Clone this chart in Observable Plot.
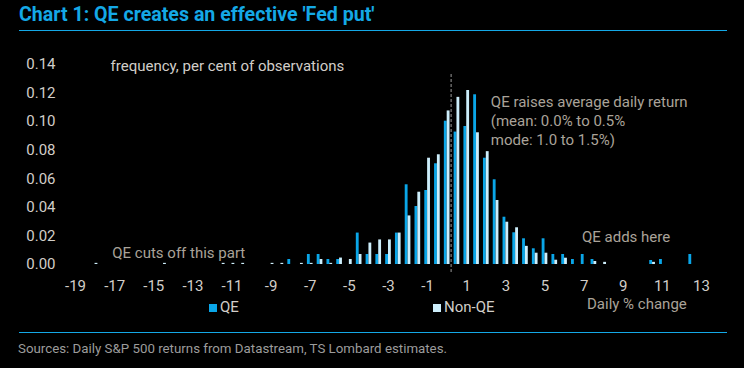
<!DOCTYPE html>
<html><head><meta charset="utf-8">
<script src="https://cdn.jsdelivr.net/npm/d3@7"></script>
<script src="https://cdn.jsdelivr.net/npm/@observablehq/plot@0.6"></script>
<style>
html,body{margin:0;padding:0;background:#000;}
#wrap{position:relative;width:744px;height:368px;background:#000;overflow:hidden;font-family:Roboto,"Liberation Sans",sans-serif;}
#title{position:absolute;left:19px;top:3px;color:#14a8e6;font-weight:700;font-size:19.6px;white-space:nowrap;}
.rule{position:absolute;left:19px;width:708px;height:1px;background:#14a8e6;}
#chart{position:absolute;left:0;top:40px;}
.leg{position:absolute;font-size:15px;color:#d2cec9;white-space:nowrap;line-height:15px;}
.sw{position:absolute;width:8px;height:8px;}
#src{position:absolute;left:18px;top:341px;font-size:13.3px;color:#9c9c9c;white-space:nowrap;}
</style></head><body>
<div id="wrap">
  <div id="title">Chart 1: QE creates an effective 'Fed put'</div>
  <div class="rule" style="top:30px"></div>
  <div id="chart"></div>
  <div class="rule" style="top:332px"></div>
  <div id="src">Sources: Daily S&amp;P 500 returns from Datastream, TS Lombard estimates.</div>
</div>
<script>
// Bin labels (daily % change, 0.5-wide bins)
const bins = [-18, -14.5, -11.5, -11, -10.5, -9, -8.5, -8, -7.5, -7, -6.5, -6, -5.5, -5, -4.5, -4, -3.5, -3, -2.5, -2, -1.5, -1, -0.5, 0, 0.5, 1, 1.5, 2, 2.5, 3, 3.5, 4, 4.5, 5, 5.5, 6, 6.5, 7, 7.5, 8, 10.5, 11, 12.5];
// Frequency, QE periods
const qeValues = [0, 0, 0, 0, 0, 0, 0, 0.0035, 0, 0.007, 0.007, 0.0035, 0.0035, 0, 0.022, 0.007, 0.007, 0.007, 0.022, 0.0558, 0.0406, 0.0518, 0.0705, 0.1003, 0.0927, 0.0966, 0.1188, 0.0744, 0.0593, 0.0331, 0.0222, 0.018, 0.011, 0.018, 0.007, 0.007, 0.0035, 0.007, 0.0035, 0, 0.0028, 0.0035, 0.007];
// Frequency, non-QE periods
const nonQeValues = [0.0008, 0.0008, 0.0008, 0.0008, 0.0008, 0.0008, 0.0008, 0, 0.0008, 0.0008, 0.0035, 0.0008, 0.0045, 0.0035, 0.007, 0.015, 0.0172, 0.0172, 0.022, 0.034, 0.0506, 0.0744, 0.0768, 0.1075, 0.117, 0.1218, 0.0922, 0.079, 0.0448, 0.0296, 0.0257, 0.0127, 0.0079, 0.0079, 0.003, 0.0044, 0, 0, 0.0021, 0.0015, 0.0015, 0, 0];
const seriesNames = ["QE", "Non-QE"];
const seriesColors = ["#0aa6e8", "#cdeefb"];
const xTicks = [-19, -17, -15, -13, -11, -9, -7, -5, -3, -1, 1, 3, 5, 7, 9, 11, 13];
const yTicks = [0, 0.02, 0.04, 0.06, 0.08, 0.10, 0.12, 0.14];
const dividerX = 0.2;

const rows = [];
bins.forEach((b, i) => {
  rows.push({bin: b, series: "QE", value: qeValues[i]});
  rows.push({bin: b, series: "Non-QE", value: nonQeValues[i]});
});
const half = 0.145;

const tickColor = "#d2cec9";
const noteColor = "#aaa399";

const chart = Plot.plot({
  width: 744,
  height: 280,
  marginLeft: 75,
  marginRight: 43,
  marginTop: 24,
  marginBottom: 56,
  style: {background: "transparent", color: tickColor, fontFamily: "Roboto, 'Liberation Sans', sans-serif", fontSize: "15px"},
  x: {type: "linear", domain: [-19, 13], ticks: xTicks, tickFormat: d => String(d), tickSize: 0, tickPadding: 16, label: null},
  y: {domain: [0, 0.14], ticks: yTicks, tickFormat: d3.format(".2f"), tickSize: 0, tickPadding: 20, label: null},
  color: {domain: seriesNames, range: seriesColors},
  marks: [
    Plot.rect(rows, {
      x1: d => d.series === "QE" ? d.bin - half : d.bin,
      x2: d => d.series === "QE" ? d.bin : d.bin + half,
      y1: 0, y2: "value", fill: "series"
    }),
    Plot.ruleX([dividerX], {y1: -0.0056, y2: 0.1337, stroke: "#9a9a9a", strokeDasharray: "3,2", strokeWidth: 1}),
    Plot.text(["frequency, per cent of observations"], {x: -17.21, y: 0.1386, text: d => d, textAnchor: "start", fill: tickColor, fontSize: 15}),
    Plot.text(["QE raises average daily return\n(mean: 0.0% to 0.5%\nmode: 1.0 to 1.5%)"], {x: 2.23, y: 0.1013, text: d => d, textAnchor: "start", lineHeight: 1.27, fill: noteColor, fontSize: 15}),
    Plot.text(["QE cuts off this part"], {x: -17.12, y: 0.0082, text: d => d, textAnchor: "start", fill: noteColor, fontSize: 15}),
    Plot.text(["QE adds here"], {x: 6.89, y: 0.0191, text: d => d, textAnchor: "start", fill: noteColor, fontSize: 15})
  ]
});
document.getElementById("chart").appendChild(chart);

// Legend
const wrap = document.getElementById("wrap");
const legX = [209, 433];
seriesNames.forEach((name, i) => {
  const sw = document.createElement("div");
  sw.className = "sw";
  sw.style.left = legX[i] + "px";
  sw.style.top = "304px";
  sw.style.background = seriesColors[i];
  wrap.appendChild(sw);
  const t = document.createElement("div");
  t.className = "leg";
  t.style.left = (legX[i] + 11) + "px";
  t.style.top = "300px";
  t.textContent = name;
  wrap.appendChild(t);
});
const xl = document.createElement("div");
xl.className = "leg";
xl.style.left = "587px";
xl.style.top = "297px";
xl.style.color = noteColor;
xl.textContent = "Daily % change";
wrap.appendChild(xl);
</script>
</body></html>
